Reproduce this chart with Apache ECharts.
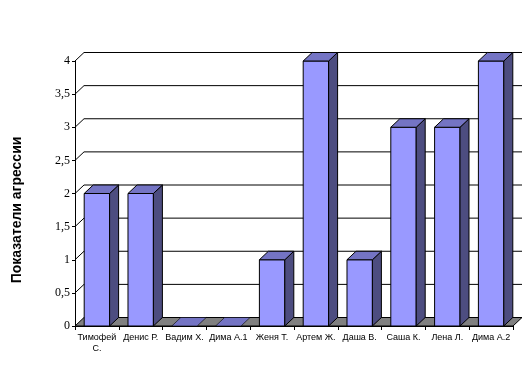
<!DOCTYPE html>
<html>
<head>
<meta charset="utf-8">
<script src="https://cdn.jsdelivr.net/npm/echarts@6/dist/echarts.min.js"></script>
<style>
html,body{margin:0;padding:0;background:#fff;}
#c{width:528px;height:368px;}
</style>
</head>
<body>
<div id="c"></div>
<script>
const categories = ['Тимофей\nС.', 'Денис Р.', 'Вадим Х.', 'Дима А.1', 'Женя Т.', 'Артем Ж.', 'Даша В.', 'Саша К.', 'Лена Л.', 'Дима А.2'];
const values = [2, 2, 0, 0, 1, 4, 1, 3, 3, 4];
const yTicks = [0.5, 1, 1.5, 2, 2.5, 3, 3.5, 4];
const yAxisTitle = 'Показатели агрессии';

const DX = 9, DY = -8.5;
const FRONT = '#9999ff', SIDE = '#4d4d80', TOP = '#7474c4', FLOOR = '#808080';

const chart = echarts.init(document.getElementById('c'), null, {renderer: 'canvas'});

const option = {
  backgroundColor: '#ffffff',
  animation: false,
  grid: {left: 75, right: 15, top: 61, bottom: 42, containLabel: false},
  xAxis: {
    type: 'category',
    data: categories,
    axisLine: {show: true, lineStyle: {color: '#000', width: 1}},
    axisTick: {show: true, length: 4, lineStyle: {color: '#000'}},
    axisLabel: {color: '#000', fontFamily: 'Liberation Sans, Arial', fontSize: 9, margin: 6, lineHeight: 11, interval: 0},
    splitLine: {show: false}
  },
  yAxis: {
    type: 'value',
    min: 0, max: 4, interval: 0.5,
    axisLine: {show: true, lineStyle: {color: '#000', width: 1}},
    axisTick: {show: true, length: 3, lineStyle: {color: '#000'}},
    axisLabel: {
      color: '#000', fontFamily: 'Liberation Serif, Times New Roman', fontSize: 12, margin: 5,
      formatter: v => String(v).replace('.', ',')
    },
    splitLine: {show: false}
  },
  graphic: [{
    type: 'text',
    x: 17, y: 210,
    rotation: Math.PI / 2,
    style: {
      text: yAxisTitle,
      font: 'bold 14px "Liberation Sans", Arial',
      fill: '#000',
      align: 'center',
      verticalAlign: 'middle'
    }
  }],
  series: [
    {
      type: 'custom',
      z: 1,
      data: yTicks.map(v => [0, v]),
      renderItem: function (params, api) {
        const cs = params.coordSys;
        const y = api.coord([0, api.value(1)])[1];
        const x0 = cs.x, x1 = cs.x + cs.width;
        return {
          type: 'polyline',
          shape: {points: [[x0, y], [x0 + DX, y + DY], [x1 + DX, y + DY]]},
          style: {stroke: '#000', lineWidth: 1, fill: null}
        };
      }
    },
    {
      type: 'custom',
      z: 2,
      data: [[0, 0]],
      renderItem: function (params, api) {
        const cs = params.coordSys;
        const y = api.coord([0, 0])[1];
        const x0 = cs.x, x1 = cs.x + cs.width;
        return {
          type: 'polygon',
          shape: {points: [[x0, y], [x1, y], [x1 + DX, y + DY], [x0 + DX, y + DY]]},
          style: {fill: FLOOR, stroke: '#000', lineWidth: 1}
        };
      }
    },
    {
      type: 'custom',
      z: 3,
      data: values.map((v, i) => [i, v]),
      renderItem: function (params, api) {
        const i = api.value(0), v = api.value(1);
        const p0 = api.coord([i, 0]);
        const p1 = api.coord([i, v]);
        const bw = api.size([1, 0])[0] * 0.58;
        const l = p0[0] - bw / 2, r = p0[0] + bw / 2;
        const yb = p0[1], yt = p1[1];
        const children = [];
        if (v > 0) {
          children.push({
            type: 'polygon',
            shape: {points: [[l, yb], [r, yb], [r, yt], [l, yt]]},
            style: {fill: FRONT, stroke: '#000', lineWidth: 1}
          });
          children.push({
            type: 'polygon',
            shape: {points: [[r, yb], [r + DX, yb + DY], [r + DX, yt + DY], [r, yt]]},
            style: {fill: SIDE, stroke: '#000', lineWidth: 1}
          });
        }
        children.push({
          type: 'polygon',
          shape: {points: [[l, yt], [r, yt], [r + DX, yt + DY], [l + DX, yt + DY]]},
          style: {fill: TOP, stroke: '#000', lineWidth: v > 0 ? 1 : 0.6}
        });
        return {type: 'group', children: children};
      }
    }
  ]
};
chart.setOption(option);
</script>
</body>
</html>
